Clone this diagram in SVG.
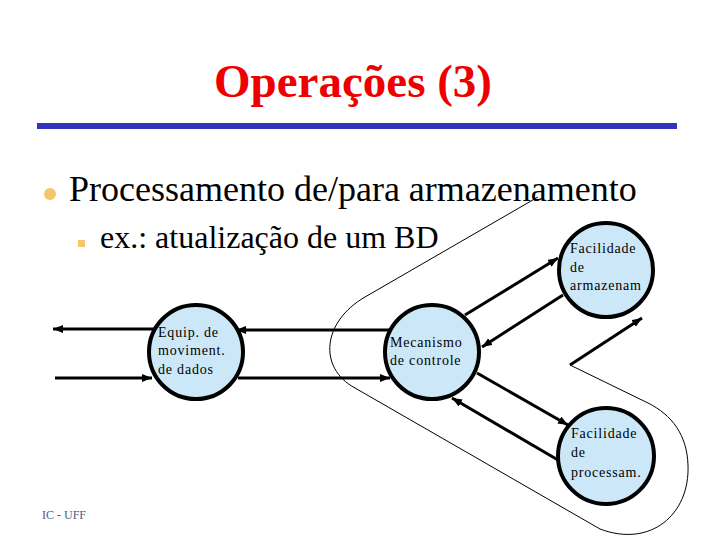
<svg xmlns="http://www.w3.org/2000/svg" width="720" height="540" viewBox="0 0 720 540">
<style>
.t{font-family:"Liberation Serif","Times New Roman",serif;fill:#000}
.n circle{fill:#CCE8F8;stroke:#000;stroke-width:4}
.n text{font-family:"Liberation Serif","Times New Roman",serif;font-size:14px;letter-spacing:0.8px;fill:#000}
.c line{stroke:#000;stroke-width:3;marker-end:url(#ah)}
</style>
<defs>
<marker id="ah" markerUnits="userSpaceOnUse" markerWidth="12" markerHeight="10" refX="10" refY="4" orient="auto">
<path d="M0,0 L10,4 L0,8 Z" fill="#000"/>
</marker>
</defs>
<rect width="720" height="540" fill="#fff"/>
<text x="353" y="97" text-anchor="middle" style="font-family:'Liberation Serif','Times New Roman',serif;font-weight:bold;font-size:47px;fill:#EE0000">Operações (3)</text>
<rect x="37" y="123" width="640" height="6" fill="#3333BB"/>
<circle cx="50" cy="194" r="6" fill="#F5C66E"/>
<text class="t" x="69" y="201" font-size="36">Processamento de/para armazenamento</text>
<rect x="78" y="240" width="7" height="7" fill="#F5C66E"/>
<text class="t" x="100" y="248" font-size="32">ex.: atualização de um BD</text>
<path d="M538,197 L365,297 C322,322 318,368 355,388 L600,529 C650,548 690,515 688,465 C687,435 672,415 648,403 L570,365" fill="none" stroke="#000" stroke-width="1"/>
<g class="c" id="connectors">
<line x1="155" y1="329" x2="53" y2="329"/>
<line x1="55" y1="378" x2="152" y2="378"/>
<line x1="390" y1="330" x2="236" y2="330"/>
<line x1="238" y1="378" x2="390" y2="378"/>
<line x1="465" y1="315" x2="558" y2="258"/>
<line x1="563" y1="295" x2="482" y2="347"/>
<line x1="477" y1="373" x2="568" y2="425"/>
<line x1="558" y1="460" x2="452" y2="398"/>
<line x1="570" y1="365" x2="642" y2="318"/>
</g>
<g class="n" id="equip">
<circle cx="196" cy="352" r="47"/>
<text x="158" y="337">Equip. de</text>
<text x="158" y="355">moviment.</text>
<text x="158" y="374">de dados</text>
</g>
<g class="n" id="mecanismo">
<circle cx="432" cy="352" r="47"/>
<text x="390" y="347">Mecanismo</text>
<text x="390" y="365">de controle</text>
</g>
<g class="n" id="armazenam">
<circle cx="606" cy="270" r="47"/>
<text x="570" y="253">Facilidade</text>
<text x="570" y="272">de</text>
<text x="570" y="290">armazenam</text>
</g>
<g class="n" id="processam">
<circle cx="606" cy="456" r="48"/>
<text x="571" y="438">Facilidade</text>
<text x="571" y="457">de</text>
<text x="571" y="477">processam.</text>
</g>
<text x="42" y="519" style="font-family:'Liberation Serif','Times New Roman',serif;font-size:12px;fill:#4B5A8C">IC - UFF</text>
</svg>
